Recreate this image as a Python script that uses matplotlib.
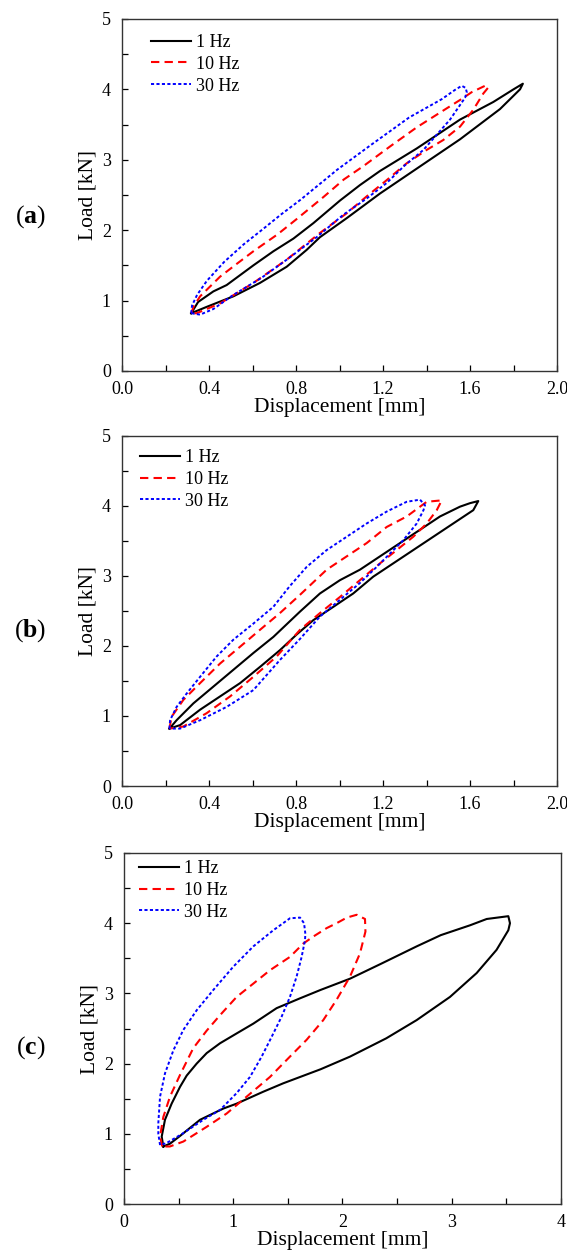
import matplotlib
matplotlib.use('Agg')
import matplotlib.pyplot as plt
from matplotlib.ticker import MultipleLocator

plt.rcParams['font.family'] = ['Liberation Serif', 'DejaVu Serif']
plt.rcParams['mathtext.fontset'] = 'custom'
plt.rcParams['mathtext.rm'] = 'Liberation Serif'
plt.rcParams['mathtext.bf'] = 'Liberation Serif:bold'

labels = ['1 Hz', '10 Hz', '30 Hz']

# ---- panel (a) : hysteresis loops, displacement [mm] vs load [kN] ----
a_1hz_x = [0.318, 0.35, 0.420, 0.481, 0.604, 0.696, 0.788, 0.88, 1.002, 1.094, 1.186, 1.355, 1.554, 1.707, 1.80, 1.843,
           1.83, 1.738, 1.554, 1.401, 1.186, 1.033, 0.910, 0.849, 0.757, 0.634, 0.512, 0.389, 0.318]
a_1hz_y = [0.82, 0.98, 1.13, 1.22, 1.50, 1.70, 1.88, 2.10, 2.42, 2.64, 2.84, 3.16, 3.57, 3.82, 4.00, 4.08,
           4.00, 3.72, 3.29, 2.97, 2.52, 2.17, 1.90, 1.72, 1.48, 1.25, 1.06, 0.91, 0.82]
a_10hz_x = [0.318, 0.33, 0.359, 0.451, 0.527, 0.604, 0.715, 0.80, 0.926, 1.02, 1.110, 1.233, 1.355, 1.493, 1.560, 1.608, 1.669, 1.685,
            1.661, 1.615, 1.554, 1.477, 1.401, 1.309, 1.217, 1.125, 1.033, 0.910, 0.757, 0.604, 0.451, 0.343, 0.318]
a_10hz_y = [0.82, 0.92, 1.06, 1.34, 1.52, 1.70, 1.94, 2.15, 2.47, 2.72, 2.91, 3.19, 3.46, 3.73, 3.86, 3.96, 4.05, 4.03,
            3.94, 3.71, 3.47, 3.28, 3.14, 2.95, 2.71, 2.48, 2.24, 1.96, 1.58, 1.25, 0.96, 0.82, 0.82]
a_30hz_x = [0.318, 0.322, 0.345, 0.39, 0.47, 0.56, 0.65, 0.73, 0.82, 0.99, 1.14, 1.32, 1.47, 1.53, 1.562, 1.58, 1.585,
            1.577, 1.508, 1.386, 1.300, 1.217, 1.125, 1.018, 0.895, 0.757, 0.640, 0.512, 0.42, 0.359, 0.318]
a_30hz_y = [0.82, 0.93, 1.08, 1.28, 1.55, 1.80, 2.02, 2.22, 2.43, 2.86, 3.20, 3.60, 3.86, 3.99, 4.05, 4.02, 3.96,
            3.88, 3.57, 3.14, 2.92, 2.67, 2.45, 2.22, 1.90, 1.58, 1.32, 1.08, 0.88, 0.80, 0.82]

# ---- panel (b) ----
b_1hz_x = [0.218, 0.251, 0.328, 0.420, 0.512, 0.604, 0.696, 0.818, 0.910, 1.002, 1.094, 1.186, 1.278, 1.370, 1.462, 1.554, 1.60, 1.638,
           1.615, 1.523, 1.431, 1.339, 1.247, 1.155, 1.063, 0.972, 0.880, 0.805, 0.726, 0.634, 0.543, 0.451, 0.359, 0.267, 0.218]
b_1hz_y = [0.82, 0.94, 1.18, 1.42, 1.66, 1.90, 2.13, 2.49, 2.75, 2.94, 3.09, 3.28, 3.47, 3.66, 3.85, 3.99, 4.04, 4.07,
           3.94, 3.75, 3.56, 3.37, 3.18, 2.99, 2.75, 2.56, 2.37, 2.17, 1.94, 1.70, 1.47, 1.28, 1.09, 0.87, 0.82]
b_10hz_x = [0.218, 0.228, 0.282, 0.359, 0.451, 0.543, 0.634, 0.726, 0.818, 0.941, 1.033, 1.125, 1.217, 1.309, 1.401, 1.470,
            1.447, 1.401, 1.339, 1.263, 1.186, 1.094, 1.002, 0.910, 0.818, 0.711, 0.604, 0.497, 0.389, 0.282, 0.218]
b_10hz_y = [0.82, 0.99, 1.23, 1.47, 1.75, 1.99, 2.23, 2.47, 2.73, 3.09, 3.28, 3.47, 3.70, 3.85, 4.06, 4.08,
            3.94, 3.75, 3.56, 3.37, 3.18, 2.94, 2.70, 2.47, 2.23, 1.85, 1.56, 1.28, 1.04, 0.85, 0.82]
b_30hz_x = [0.218, 0.221, 0.251, 0.297, 0.359, 0.435, 0.512, 0.604, 0.696, 0.770, 0.849, 0.941, 1.033, 1.125, 1.217, 1.309, 1.370, 1.393,
            1.386, 1.355, 1.293, 1.232, 1.171, 1.094, 1.002, 0.910, 0.818, 0.726, 0.604, 0.481, 0.359, 0.267, 0.218]
b_30hz_y = [0.82, 0.94, 1.13, 1.32, 1.56, 1.85, 2.09, 2.32, 2.56, 2.85, 3.13, 3.37, 3.56, 3.75, 3.92, 4.06, 4.09, 4.01,
            3.94, 3.75, 3.51, 3.32, 3.13, 2.90, 2.66, 2.42, 2.10, 1.80, 1.37, 1.13, 0.94, 0.82, 0.82]

# ---- panel (c) ----
c_1hz_x = [0.36, 0.345, 0.375, 0.436, 0.513, 0.574, 0.665, 0.757, 0.879, 1.031, 1.184, 1.397, 1.611, 1.80, 2.069, 2.35, 2.679, 2.90, 3.167, 3.320, 3.518,
           3.533, 3.518, 3.41, 3.228, 2.984, 2.679, 2.40, 2.069, 1.80, 1.458, 1.275, 1.031, 0.909, 0.696, 0.513, 0.421, 0.36]
c_1hz_y = [0.82, 0.96, 1.20, 1.43, 1.67, 1.83, 2.00, 2.15, 2.29, 2.43, 2.57, 2.79, 2.93, 3.05, 3.21, 3.42, 3.67, 3.83, 3.97, 4.06, 4.10,
           4.00, 3.90, 3.62, 3.29, 2.95, 2.62, 2.36, 2.10, 1.92, 1.72, 1.60, 1.43, 1.36, 1.20, 0.97, 0.86, 0.82]
c_10hz_x = [0.35, 0.330, 0.360, 0.421, 0.513, 0.634, 0.757, 0.879, 1.031, 1.184, 1.336, 1.519, 1.641, 1.733, 1.855, 1.946, 2.04, 2.130, 2.206,
            2.210, 2.160, 2.069, 1.946, 1.824, 1.672, 1.519, 1.336, 1.123, 0.940, 0.757, 0.543, 0.42, 0.35]
c_10hz_y = [0.82, 0.96, 1.24, 1.53, 1.84, 2.22, 2.47, 2.69, 2.95, 3.14, 3.33, 3.52, 3.71, 3.81, 3.93, 4.00, 4.08, 4.12, 4.06,
            3.88, 3.57, 3.24, 2.91, 2.62, 2.34, 2.10, 1.81, 1.53, 1.29, 1.10, 0.89, 0.82, 0.82]
c_30hz_x = [0.33, 0.314, 0.314, 0.330, 0.375, 0.452, 0.543, 0.665, 0.818, 1.0, 1.184, 1.367, 1.519, 1.611, 1.648, 1.660,
            1.657, 1.626, 1.580, 1.519, 1.443, 1.351, 1.26, 1.153, 1.031, 0.879, 0.726, 0.543, 0.391, 0.33]
c_30hz_y = [0.84, 1.00, 1.15, 1.53, 1.86, 2.19, 2.48, 2.76, 3.05, 3.38, 3.67, 3.90, 4.07, 4.08, 4.00, 3.85,
            3.76, 3.52, 3.24, 2.95, 2.67, 2.38, 2.10, 1.81, 1.58, 1.34, 1.20, 1.01, 0.87, 0.84]

fig = plt.figure(figsize=(5.67, 12.52), dpi=100)

# axes rectangles in figure fractions (left, bottom, width, height)
ax_a = fig.add_axes([0.2152, 0.7037, 0.7672, 0.2812])
ax_b = fig.add_axes([0.2152, 0.3722, 0.7672, 0.2796])
ax_c = fig.add_axes([0.2187, 0.0383, 0.7707, 0.2804])

panels = [
    (ax_a, a_1hz_x, a_1hz_y, a_10hz_x, a_10hz_y, a_30hz_x, a_30hz_y, 2.0, 0.4, 0.2, '%.1f', 'a', 0.8267),
    (ax_b, b_1hz_x, b_1hz_y, b_10hz_x, b_10hz_y, b_30hz_x, b_30hz_y, 2.0, 0.4, 0.2, '%.1f', 'b', 0.4960),
    (ax_c, c_1hz_x, c_1hz_y, c_10hz_x, c_10hz_y, c_30hz_x, c_30hz_y, 4.0, 1.0, 0.5, '%d', 'c', 0.1630),
]
legend_pos = {'a': (29 / 435, 1 - 15 / 352), 'b': (18 / 435, 1 - 13 / 350), 'c': (15 / 437, 1 - 7 / 351)}

for (ax, x1, y1, x10, y10, x30, y30, xmax, xmaj, xmin, fmt, tag, ly) in panels:
    ax.plot(x1, y1, color='black', lw=1.5, ls='-', label=labels[0])
    ax.plot(x10, y10, color='red', lw=1.5, ls=(0, (4, 2.5)), label=labels[1])
    ax.plot(x30, y30, color='blue', lw=1.4, ls=(0, (1.6, 1.2)), label=labels[2])

    ax.set_xlim(0, xmax)
    ax.set_ylim(0, 5)
    ax.xaxis.set_major_locator(MultipleLocator(xmaj))
    ax.xaxis.set_minor_locator(MultipleLocator(xmin))
    ax.yaxis.set_major_locator(MultipleLocator(1))
    ax.yaxis.set_minor_locator(MultipleLocator(0.5))
    ax.xaxis.set_major_formatter(plt.FormatStrFormatter(fmt))
    ax.tick_params(which='both', direction='in', length=4, width=0.9, labelsize=13, top=False, right=False)
    ax.tick_params(axis='x', pad=7.5)
    ax.tick_params(axis='y', pad=8)
    for sp in ax.spines.values():
        sp.set_linewidth(1.0)
        sp.set_color('#333333')

    ax.set_xlabel('Displacement [mm]', fontsize=15.5)
    ax.set_ylabel('Load [kN]', fontsize=15.5)
    ax.xaxis.set_label_coords(0.5, -0.078)
    ax.yaxis.set_label_coords(-0.056, 0.5)

    ax.legend(loc='upper left', bbox_to_anchor=legend_pos[tag], frameon=False, fontsize=13,
              borderpad=0, borderaxespad=0, handlelength=2.2, handletextpad=0.3, labelspacing=0.27)

    fig.text(0.054, ly, r'($\mathbf{%s}$)' % tag, fontsize=18.5, ha='center', va='center')

fig.savefig('out.png', dpi=100)
